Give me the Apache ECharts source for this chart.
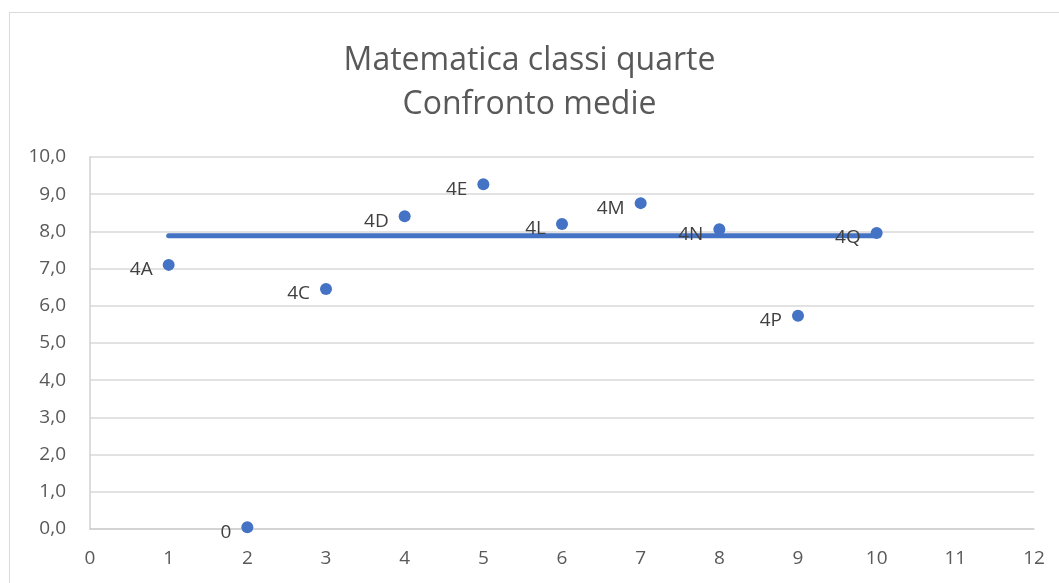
<!DOCTYPE html>
<html>
<head>
<meta charset="utf-8">
<script src="https://cdn.jsdelivr.net/npm/echarts@6/dist/echarts.min.js"></script>
<style>
  html, body { margin: 0; padding: 0; background: #fff; }
  #frame { position: absolute; left: 9px; top: 12px; width: 1100px; height: 600px;
           border-left: 1.5px solid #d9d9d9; border-top: 1.5px solid #d9d9d9; }
  #chart { position: absolute; left: 0; top: 0; width: 1059px; height: 583px; }
</style>
</head>
<body>
<div id="frame"></div>
<div id="chart"></div>
<script>
// classi e medie
var classi = ['4A', '0', '4C', '4D', '4E', '4L', '4M', '4N', '4P', '4Q'];
var posX = [1, 2, 3, 4, 5, 6, 7, 8, 9, 10];
var medie = [7.10, 0.05, 6.45, 8.41, 9.27, 8.20, 8.76, 8.06, 5.73, 7.96];
// linea della media complessiva
var mediaX = [1, 10];
var mediaY = [7.88, 7.88];

var fontName = '"Open Sans", "Noto Sans", sans-serif';
var blu = '#4472C4';

var punti = [];
for (var i = 0; i < classi.length; i++) {
    punti.push([posX[i], medie[i], classi[i]]);
}
var linea = [];
for (var j = 0; j < mediaX.length; j++) {
    linea.push([mediaX[j], mediaY[j]]);
}

var myChart = echarts.init(document.getElementById('chart'));
var option = {
    animation: false,
    title: {
        text: 'Matematica classi quarte\nConfronto medie',
        left: 'center',
        top: 34,
        textStyle: {
            fontFamily: fontName,
            fontSize: 32,
            fontWeight: 'normal',
            color: '#595959',
            lineHeight: 44
        }
    },
    grid: {
        left: 90,
        right: 25,
        top: 157,
        bottom: 54
    },
    xAxis: {
        type: 'value',
        min: 0,
        max: 12,
        interval: 1,
        splitLine: { show: false },
        axisTick: { show: false },
        axisLine: { lineStyle: { color: '#d0d0d0', width: 1.5 } },
        axisLabel: {
            margin: 20,
            fontFamily: fontName,
            fontSize: 19,
            color: '#595959'
        }
    },
    yAxis: {
        type: 'value',
        min: 0,
        max: 10,
        interval: 1,
        axisLine: { show: true, lineStyle: { color: '#d0d0d0', width: 1.5 } },
        axisTick: { show: false },
        splitLine: { lineStyle: { color: '#d9d9d9', width: 1.5 } },
        axisLabel: {
            margin: 24,
            fontFamily: fontName,
            fontSize: 19,
            color: '#595959',
            formatter: function (v) {
                return v.toFixed(1).replace('.', ',');
            }
        }
    },
    series: [
        {
            name: 'Media',
            type: 'line',
            data: linea,
            symbol: 'none',
            z: 2,
            lineStyle: { color: blu, width: 5, cap: 'round' }
        },
        {
            name: 'Classi',
            type: 'scatter',
            data: punti,
            symbol: 'circle',
            symbolSize: 12,
            z: 3,
            itemStyle: { color: blu, opacity: 1 },
            label: {
                show: true,
                position: 'left',
                distance: 10,
                offset: [0, 5],
                fontFamily: fontName,
                fontSize: 19,
                color: '#404040',
                formatter: function (p) {
                    return p.data[2];
                }
            }
        }
    ]
};
myChart.setOption(option);
</script>
</body>
</html>
